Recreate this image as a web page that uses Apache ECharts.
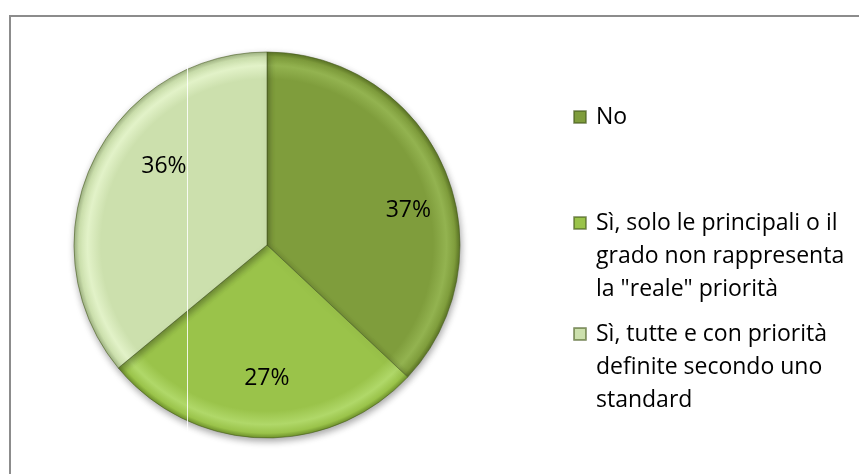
<!DOCTYPE html>
<html>
<head>
<meta charset="utf-8">
<script src="https://cdn.jsdelivr.net/npm/echarts@6/dist/echarts.min.js"></script>
<style>
  html, body { margin: 0; padding: 0; background: #ffffff; }
  #chart { width: 859px; height: 474px; }
</style>
</head>
<body>
<div id="chart"></div>
<script>
// Survey answers and their shares (percent)
const categories = [
  'No',
  'Sì, solo le principali o il\ngrado non rappresenta\nla "reale" priorità',
  'Sì, tutte e con priorità\ndefinite secondo uno\nstandard'
];
const values = [37, 27, 36];

// Slice colours (dark olive, lime, pale sage)
const baseColors = ['#7f9d3c', '#9ac34a', '#cce0ad'];
const rimColors  = ['#93b350', '#b0d869', '#e2f2c8'];
const edgeColors = ['#5b7425', '#6f922c', '#9fb383'];
// Nudges moving each percentage label away from the default inside spot
const labelNudge = [[50, 5], [3, 34], [-13, -36]];

const CX = 267, CY = 245, R = 193;
const LINE_H = 33;
const FONT = '"Open Sans", Lato, sans-serif';

function sliceFill(i) {
  return {
    type: 'radial', x: CX, y: CY, r: R, global: true,
    colorStops: [
      { offset: 0, color: baseColors[i] },
      { offset: 0.86, color: baseColors[i] },
      { offset: 0.93, color: rimColors[i] },
      { offset: 0.975, color: baseColors[i] },
      { offset: 1, color: edgeColors[i] }
    ]
  };
}

const pieData = categories.map((name, i) => ({
  name: name,
  value: values[i],
  itemStyle: { color: sliceFill(i) },
  label: { offset: labelNudge[i] }
}));

// Legend marker: a 12px square level with the first text line of a block
function markerPath(lines) {
  const h = lines * LINE_H;
  const top = (LINE_H - 12) / 2;
  return 'path://M0,0 M0,' + h + ' M0,' + top + ' h12 v12 h-12 Z';
}

// One legend per entry so each block sits at its own height
const legendTops = [99.5, 205.5, 316.5];
const legends = categories.map((name, i) => {
  const lines = name.split('\n').length;
  return {
    data: [{ name: name, itemStyle: { color: baseColors[i] } }],
    left: 573,
    top: legendTops[i],
    padding: 0,
    orient: 'vertical',
    icon: markerPath(lines),
    itemWidth: 12,
    itemHeight: lines * LINE_H,
    selectedMode: false,
    textStyle: {
      fontFamily: FONT,
      fontSize: 23,
      color: '#000000',
      lineHeight: LINE_H,
      padding: [0, 0, 0, 5]
    }
  };
});

const chart = echarts.init(document.getElementById('chart'), null, { renderer: 'canvas' });
chart.setOption({
  backgroundColor: '#ffffff',
  animation: false,
  legend: legends,
  graphic: [
    {
      type: 'rect',
      shape: { x: 10, y: 16, width: 900, height: 520 },
      style: { fill: 'none', stroke: '#8c8c8c', lineWidth: 2 },
      z: 0
    },
    {
      type: 'line',
      shape: { x1: 187.5, y1: 60, x2: 187.5, y2: 431 },
      style: { stroke: 'rgba(255,255,255,0.85)', lineWidth: 1 },
      z: 100
    }
  ],
  series: [{
    type: 'pie',
    center: [CX, CY],
    radius: [0, R],
    startAngle: 90,
    clockwise: true,
    data: pieData,
    itemStyle: {
      borderColor: 'rgba(70,90,30,0.55)',
      borderWidth: 1,
      shadowBlur: 7,
      shadowOffsetX: 1,
      shadowOffsetY: 3,
      shadowColor: 'rgba(0,0,0,0.35)'
    },
    label: {
      show: true,
      position: 'inside',
      formatter: p => p.value + '%',
      fontFamily: FONT,
      fontSize: 23,
      color: '#000000'
    },
    labelLine: { show: false },
    emphasis: { disabled: true }
  }]
});
</script>
</body>
</html>
